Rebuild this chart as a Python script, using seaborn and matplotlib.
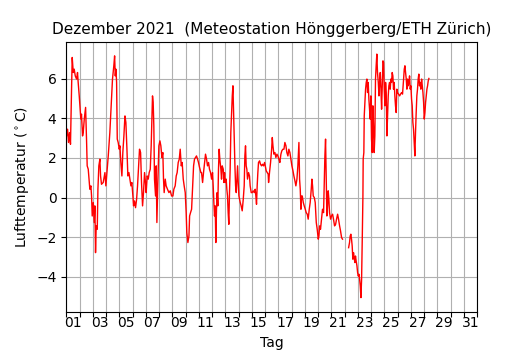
import numpy as np
import pandas as pd
import matplotlib
matplotlib.use("Agg")
import matplotlib.pyplot as plt
import seaborn as sns

# Day of December (0 = 1 Dec 00:00) and air temperature (°C)
day_a = [0.02, 0.10, 0.17, 0.25, 0.32, 0.35, 0.40, 0.45, 0.53, 0.60, 0.68, 0.78, 0.85, 0.90, 0.98,
         1.03, 1.10, 1.15, 1.23, 1.28, 1.36, 1.46, 1.53, 1.58, 1.66, 1.78, 1.86, 1.91, 1.96, 2.04,
         2.11, 2.16, 2.21, 2.26, 2.34, 2.39, 2.46, 2.54, 2.59, 2.66, 2.79, 2.92, 2.99, 3.09, 3.17,
         3.29, 3.42, 3.49, 3.59, 3.65, 3.70, 3.75, 3.80, 3.85, 3.92, 4.00, 4.05, 4.12, 4.20, 4.27,
         4.35, 4.43, 4.50, 4.58, 4.65, 4.73, 4.80, 4.88, 4.95, 5.03,
         5.08, 5.15, 5.23, 5.31, 5.38, 5.46, 5.53, 5.61, 5.68, 5.76, 5.83, 5.91, 5.98, 6.03, 6.11,
         6.19, 6.26, 6.34, 6.41, 6.46, 6.51, 6.56, 6.61, 6.66, 6.74, 6.79, 6.84, 6.92, 6.99, 7.07,
         7.14, 7.22, 7.29, 7.34, 7.39, 7.47, 7.54, 7.64, 7.75, 7.85, 7.95, 8.05, 8.12, 8.22, 8.30,
         8.37, 8.45, 8.53, 8.60, 8.68, 8.75, 8.83, 8.90, 8.98, 9.05, 9.10, 9.18, 9.26, 9.31, 9.38,
         9.46, 9.53, 9.61, 9.68, 9.76, 9.83, 9.91, 9.98, 10.06, 10.16,
         10.21, 10.29, 10.36, 10.44, 10.51, 10.59, 10.66, 10.74, 10.81, 10.89, 10.97, 11.04, 11.09,
         11.14, 11.19, 11.24, 11.29, 11.34, 11.39, 11.44, 11.49, 11.54, 11.59, 11.67, 11.72, 11.77,
         11.85, 11.90, 11.95, 12.00, 12.07, 12.12, 12.17, 12.22, 12.27, 12.32, 12.37, 12.42, 12.47,
         12.53, 12.58, 12.63, 12.68, 12.73, 12.78, 12.83, 12.88, 12.93, 12.98, 13.03, 13.08, 13.13,
         13.20, 13.28, 13.36, 13.43, 13.48, 13.53, 13.58, 13.63, 13.68, 13.76, 13.83, 13.88, 13.96,
         14.03, 14.11, 14.19, 14.26, 14.31, 14.36, 14.41, 14.46, 14.51, 14.59, 14.66, 14.74, 14.81,
         14.89, 14.97, 15.02, 15.09, 15.17, 15.24,
         15.27, 15.34, 15.42, 15.50, 15.55, 15.60, 15.67, 15.75, 15.82, 15.90, 15.97, 16.05, 16.12,
         16.20, 16.27, 16.35, 16.43, 16.50, 16.58, 16.65, 16.73, 16.80, 16.88, 16.95, 17.03, 17.11,
         17.18, 17.26, 17.33, 17.41, 17.48, 17.53, 17.56, 17.61, 17.66, 17.71, 17.76, 17.81, 17.89,
         17.96, 18.04, 18.11, 18.19, 18.26, 18.34, 18.41, 18.49, 18.54, 18.59, 18.64, 18.72, 18.79,
         18.87, 18.94, 19.02, 19.07, 19.12, 19.19, 19.27, 19.34, 19.42, 19.47, 19.52, 19.57, 19.62,
         19.67, 19.72, 19.77, 19.82, 19.87, 19.95, 20.02, 20.10, 20.17, 20.25, 20.33, 20.40,
         20.48, 20.55, 20.63, 20.70, 20.78, 20.85]
temp_a = [3.11, 3.45, 2.78, 3.28, 2.69, 3.79, 5.47, 7.07, 6.31, 6.48, 6.14, 5.98, 6.31, 5.81, 5.13,
          4.63, 3.96, 4.21, 3.11, 3.28, 3.96, 4.55, 2.95, 1.60, 1.43, 0.42, 0.59, 0.08, -0.93, -0.25,
          -1.26, -0.42, -2.78, -1.43, -1.60, 0.42, 1.60, 1.94, 1.09, 0.67, 0.76, 1.26, 0.59, 1.43, 2.10,
          3.28, 4.97, 5.98, 6.65, 7.15, 6.14, 6.48, 5.81, 2.95, 2.78, 2.44, 2.61, 1.77, 1.09, 2.27,
          3.11, 4.12, 3.79, 2.44, 1.09, 1.26, 0.93, 0.59, 0.76, 0.08,
          -0.42, -0.17, -0.51, -0.08, 0.59, 1.60, 2.44, 2.27, 0.76, -0.42, 0.25, 1.26, 0.76, 0.25, 1.09,
          0.93, 1.26, 1.43, 2.61, 3.96, 5.13, 4.80, 3.62, 0.93, 0.08, 1.60, -1.26, 0.93, 2.61, 2.86,
          2.61, 2.02, 2.27, 0.93, 0.25, 0.93, 0.59, 0.42, 0.25, 0.34, 0.08, 0.08, 0.42, 0.59, 1.09,
          1.26, 1.77, 1.94, 2.44, 1.60, 1.77, 0.93, 0.59, 0.25, -0.76, -1.77, -2.27, -1.94, -0.93, -0.76,
          -0.59, 0.42, 1.60, 1.94, 2.02, 2.10, 1.94, 1.77, 1.52, 1.26,
          1.26, 0.76, 1.26, 1.77, 2.19, 1.94, 1.60, 1.77, 1.43, 1.26, 0.93, 1.26, 0.59,
          -0.25, -0.93, -0.42, -2.27, -0.59, 0.25, -0.42, 1.43, 2.44, 1.94, 1.43, 0.93, 1.60,
          1.43, 0.76, 1.26, 0.76, 0.93, 0.42, 0.08, -0.76, -1.35, 0.25, 1.43, 3.28, 4.12,
          5.13, 5.64, 4.29, 2.95, 1.60, 0.59, 0.25, 0.93, 1.60, 0.76, 0.08, -0.08, -0.25,
          -0.42, -0.67, -0.08, 0.59, 2.10, 2.61, 1.60, 1.43, 0.93, 1.26, 1.09, 0.59, 0.25,
          0.25, 0.34, 0.25, 0.42, 0.08, -0.34, 0.59, 1.26, 1.77, 1.85, 1.68, 1.60, 1.68,
          1.60, 1.77, 1.60, 1.35, 1.26, 1.18,
          0.76, 1.26, 1.77, 2.44, 3.03, 2.61, 2.19, 2.27, 2.02, 2.19, 2.10, 1.94, 1.77,
          2.19, 2.36, 2.44, 2.44, 2.78, 2.61, 2.27, 2.10, 2.44, 2.27, 1.94, 1.60, 1.35,
          1.09, 0.84, 0.59, 0.93, 1.60, 2.27, 2.78, 0.93, 0.42, -0.59, 0.08, 0.08, -0.25,
          -0.42, -0.59, -0.76, -0.84, -1.09, -0.59, -0.25, 0.42, 0.93, 0.59, 0.08, 0.00, -0.25,
          -1.26, -1.60, -2.10, -1.94, -1.43, -1.60, -1.09, -0.59, -0.76, 0.59, 2.10, 2.95, 0.93,
          -0.93, -0.42, 0.34, -0.08, -0.76, -1.09, -0.93, -0.84, -1.09, -1.43, -1.35, -1.09,
          -0.84, -1.09, -1.43, -1.68, -2.02, -2.10]

day_b = [21.31, 21.38, 21.43, 21.48, 21.53, 21.58, 21.63, 21.68, 21.73, 21.78, 21.83, 21.88, 21.94,
         21.99, 22.04, 22.09, 22.14, 22.19, 22.24, 22.29, 22.34, 22.39, 22.41, 22.46, 22.49, 22.54,
         22.59, 22.64, 22.69, 22.74, 22.79, 22.84, 22.89, 22.94, 22.99, 23.04, 23.09, 23.14, 23.19,
         23.24, 23.29, 23.34, 23.39, 23.44, 23.49, 23.55, 23.60, 23.65, 23.70, 23.75, 23.80, 23.85,
         23.90, 23.95, 24.00, 24.05, 24.10, 24.15, 24.20, 24.25, 24.30, 24.35, 24.40, 24.45, 24.50,
         24.55, 24.60, 24.65, 24.70, 24.75, 24.80, 24.85, 24.90, 24.95, 25.00, 25.08, 25.16, 25.23,
         25.31, 25.38, 25.46, 25.51, 25.56,
         25.61, 25.66, 25.71, 25.76, 25.81, 25.86, 25.91, 25.96, 26.01, 26.06, 26.11, 26.16, 26.21,
         26.26, 26.31, 26.36, 26.41, 26.46, 26.51, 26.56, 26.61, 26.66, 26.71, 26.76, 26.82, 26.87,
         26.92, 26.97, 27.02, 27.07, 27.12, 27.17, 27.22, 27.27, 27.32, 27.37]
temp_b = [-2.53, -2.27, -1.94, -1.85, -2.10, -2.44, -3.11, -2.78, -3.03, -3.28, -2.95, -3.20, -3.45,
          -3.79, -3.96, -3.87, -4.12, -4.46, -5.05, -4.12, -2.10, 0.08, 1.94, 2.27, 4.12, 4.80,
          5.47, 5.81, 5.98, 5.30, 5.81, 4.97, 4.46, 3.96, 5.13, 2.95, 2.27, 4.63, 3.62,
          2.27, 3.11, 5.98, 6.65, 7.24, 6.31, 5.81, 5.13, 5.81, 6.31, 5.47, 4.46, 5.64,
          6.90, 6.82, 5.47, 4.63, 5.81, 5.30, 3.11, 4.12, 5.13, 5.64, 5.81, 5.47, 5.98,
          5.81, 6.31, 6.14, 5.47, 5.81, 5.13, 4.63, 4.29, 5.47, 5.30, 5.22, 5.13, 5.22,
          5.30, 5.22, 5.98, 6.48, 6.65,
          6.31, 5.98, 5.47, 5.98, 5.64, 5.81, 6.14, 5.47, 5.64, 4.97, 4.63, 3.79, 3.45,
          2.78, 2.10, 3.28, 4.29, 5.13, 5.47, 5.98, 6.23, 5.64, 5.81, 5.47, 5.98, 5.64,
          5.30, 4.80, 3.96, 4.29, 4.80, 5.13, 5.47, 5.64, 5.89, 6.01]

day_labels = ["%02d" % d for d in range(1, 32, 2)]

df = pd.concat([
    pd.DataFrame({"Tag": day_a, "T": temp_a, "seg": "a"}),
    pd.DataFrame({"Tag": day_b, "T": temp_b, "seg": "b"}),
], ignore_index=True)

fig, ax = plt.subplots(figsize=(5.3, 3.5), dpi=100)
sns.lineplot(data=df, x="Tag", y="T", units="seg", estimator=None, sort=False,
             color="red", linewidth=1.0, ax=ax, legend=False)

ax.set_xlim(0, 31)
ax.set_ylim(-5.75, 7.85)
ax.set_xticks(np.arange(0, 32, 1))
ax.set_xticklabels([])
ax.set_xticks(np.arange(0.5, 31, 2), minor=True)
ax.set_xticklabels(day_labels, minor=True)
ax.tick_params(axis="x", which="minor", length=0)
ax.set_yticks([-4, -2, 0, 2, 4, 6])
ax.grid(True, which="major", color="#b0b0b0", linewidth=0.8)
ax.set_axisbelow(True)

ax.set_title("Dezember 2021  (Meteostation Hönggerberg/ETH Zürich)", fontsize=11)
ax.set_xlabel("Tag")
ax.set_ylabel(r"Lufttemperatur ($^\circ$C)")

fig.savefig("out.png", dpi=100)
